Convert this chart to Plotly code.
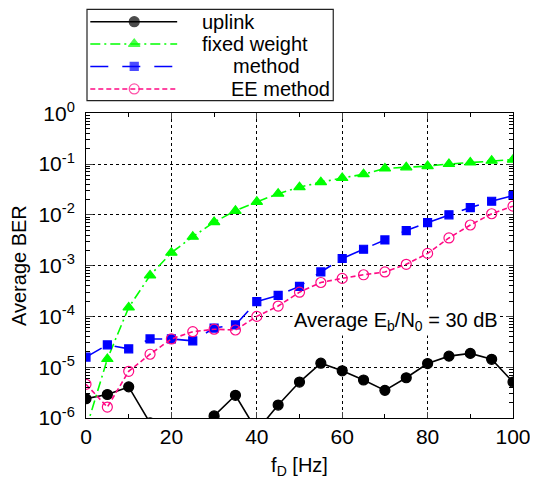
import plotly.graph_objects as go

# ---------------- data ----------------
fd = [0, 5, 10, 15, 20, 25, 30, 35, 40, 45, 50, 55, 60, 65, 70, 75, 80, 85, 90, 95, 100]

ber_uplink = [2.4e-6, 2.9e-6, 4.1e-6, 8e-7, 5e-7, 6e-7, 1.1e-6, 2.8e-6, 5.6e-7, 1.8e-6,
              5.1e-6, 1.2e-5, 8.5e-6, 5.6e-6, 3.5e-6, 6.2e-6, 1.18e-5, 1.65e-5, 1.87e-5,
              1.43e-5, 5.1e-6]
ber_fixed = [6e-7, 1.45e-5, 1.5e-4, 6.4e-4, 1.8e-3, 3.7e-3, 7.2e-3, 1.2e-2, 1.8e-2, 2.6e-2,
             3.5e-2, 4.4e-2, 5.3e-2, 6.3e-2, 8.2e-2, 8.6e-2, 9.1e-2, 0.1, 0.107, 0.116, 0.122]
ber_method = [1.58e-5, 2.75e-5, 2.3e-5, 3.6e-5, 3.6e-5, 3.3e-5, 5.9e-5, 6.8e-5, 1.96e-4,
              2.6e-4, 3.9e-4, 7.5e-4, 1.38e-3, 2.1e-3, 3.2e-3, 4.9e-3, 7.0e-3, 1.0e-2,
              1.39e-2, 1.85e-2, 2.4e-2]
ber_ee = [4.6e-6, 1.64e-6, 8.3e-6, 1.8e-5, 3.6e-5, 5.0e-5, 5.6e-5, 5.4e-5, 1.0e-4, 1.6e-4,
          3.0e-4, 4.65e-4, 5.6e-4, 6.6e-4, 7.5e-4, 1.06e-3, 1.74e-3, 3.5e-3, 6.3e-3,
          1.05e-2, 1.48e-2]

series_names = ["uplink", "fixed weight", "method", "EE method"]
x_ticks = [0, 20, 40, 60, 80, 100]
y_exps = [-6, -5, -4, -3, -2, -1, 0]
y_ticks = [10.0 ** e for e in y_exps]
y_ticktext = ["10<sup>%d</sup>" % e for e in y_exps]
y_minor = [k * 10.0 ** e for e in range(-6, 0) for k in range(2, 10)]

FONT = "Liberation Sans, Arial, sans-serif"

# ---------------- layout geometry (page pixels) ----------------
OFF = 8                      # default body margin of the html page
FIG_W, FIG_H = 538 - OFF, 479 - OFF
PLOT_L, PLOT_R, PLOT_T, PLOT_B = 85.7, 513.3, 113.3, 418.3
M_L = PLOT_L - OFF
M_R = FIG_W - (PLOT_R - OFF)
M_B = FIG_H - (PLOT_B - OFF)
PAPER_H = FIG_H - M_B
PAPER_W = PLOT_R - PLOT_L


def px_x(p):
    return (p - PLOT_L) / PAPER_W


def px_y(p):
    return (PLOT_B - p) / PAPER_H


styles = [
    dict(color="#000000", dash="solid", symbol="circle", size=10, mcolor="#000000"),
    dict(color="#00ff00", dash="10px,4px,2px,4px", symbol="triangle-up", size=10, mcolor="#00ff00"),
    dict(color="#0000ff", dash="18px,14px", symbol="square", size=8, mcolor="#0000ff"),
    dict(color="#ff0a84", dash="5px,3px", symbol="circle-open", size=10, mcolor="#ff0a84"),
]
all_series = [ber_uplink, ber_fixed, ber_method, ber_ee]

fig = go.Figure()
for name, ys, st in zip(series_names, all_series, styles):
    fig.add_trace(go.Scatter(
        x=fd, y=ys, name=name, mode="lines+markers", showlegend=False,
        line=dict(color=st["color"], width=1.6, dash=st["dash"]),
        marker=dict(symbol=st["symbol"], size=st["size"], color=st["mcolor"],
                    line=dict(color=st["mcolor"], width=1.2)),
        cliponaxis=True,
    ))

# ---------------- custom legend (drawn in its own small axes) ----------------
LEG_L, LEG_R, LEG_T, LEG_B = 86.7, 333.3, 9.3, 100.7
leg_rows = [21.7, 44.0, 66.5, 89.0]
leg_text_x = [200, 200, 231, 229]
for name, row, tx, st in zip(series_names, leg_rows, leg_text_x, styles):
    fig.add_trace(go.Scatter(
        x=[90, 134, 177], y=[row, row, row], mode="lines+markers", showlegend=False,
        xaxis="x2", yaxis="y2", hoverinfo="skip",
        line=dict(color=st["color"], width=1.6, dash=st["dash"]),
        marker=dict(symbol=st["symbol"], size=[0, st["size"], 0], color=st["mcolor"],
                    line=dict(color=st["mcolor"], width=1.2)),
    ))
    fig.add_annotation(x=tx, y=row, xref="x2", yref="y2", text=name, showarrow=False,
                       xanchor="left", yanchor="middle",
                       font=dict(family=FONT, size=20, color="black"))

fig.add_shape(type="rect", xref="paper", yref="paper",
              x0=px_x(LEG_L), x1=px_x(LEG_R), y0=px_y(LEG_B), y1=px_y(LEG_T),
              line=dict(color="#222222", width=1.2), fillcolor="rgba(0,0,0,0)")

fig.add_annotation(x=48.2, y=-4.11, xref="x", yref="y",
                   text="Average E<sub>b</sub>/N<sub>0</sub> = 30 dB",
                   showarrow=False, xanchor="left", yanchor="middle",
                   bgcolor="white", borderpad=1,
                   font=dict(family=FONT, size=20, color="black"))

fig.update_layout(
    width=FIG_W, height=FIG_H,
    margin=dict(l=M_L, r=M_R, t=0, b=M_B, pad=0, autoexpand=False),
    paper_bgcolor="white", plot_bgcolor="white",
    font=dict(family=FONT, size=20, color="black"),
    xaxis=dict(
        range=[0, 100], tickvals=x_ticks, ticks="inside", ticklen=6,
        showline=True, linecolor="black", linewidth=1, mirror="allticks",
        showgrid=True, gridcolor="black", griddash="dot", gridwidth=1,
        zeroline=False, tickfont=dict(size=21),
        minor=dict(dtick=10, ticks="inside", ticklen=4, showgrid=False, tickcolor="black"),
        title=dict(text="f<sub>D</sub> [Hz]", font=dict(size=20), standoff=10),
        domain=[0, 1], anchor="y",
    ),
    yaxis=dict(
        type="log", range=[-6, 0], tickvals=y_ticks, ticktext=y_ticktext,
        ticks="inside", ticklen=7,
        showline=True, linecolor="black", linewidth=1, mirror="allticks",
        showgrid=True, gridcolor="black", griddash="dot", gridwidth=1,
        zeroline=False, tickfont=dict(size=21), ticklabelstandoff=6,
        minor=dict(tickvals=y_minor, ticks="inside", ticklen=4, showgrid=False, tickcolor="black"),
        title=dict(text="Average BER", font=dict(size=20), standoff=8),
        domain=[0, px_y(PLOT_T)], anchor="x",
    ),
    xaxis2=dict(domain=[px_x(LEG_L), px_x(LEG_R)], range=[LEG_L, LEG_R],
                visible=False, anchor="y2", fixedrange=True),
    yaxis2=dict(domain=[px_y(LEG_B), px_y(LEG_T)], range=[LEG_B, LEG_T],
                visible=False, anchor="x2", fixedrange=True),
)

fig.write_html("out.html")
